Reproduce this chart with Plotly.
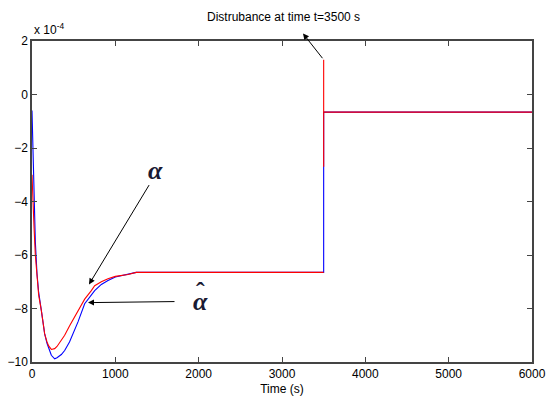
import plotly.graph_objects as go

# time (s) and signals in units of 1e-4
t_curve = [0, 10, 25, 40, 60, 80, 112, 132, 152, 180, 200, 232, 272, 300, 352, 392, 450, 512, 552, 632, 712, 752, 832, 912, 1000, 1152, 1250]
alpha_hat = [-0.6, -2.0, -3.8, -5.5, -6.7, -7.4, -8.07, -8.5, -8.95, -9.3, -9.5, -9.75, -9.88, -9.84, -9.72, -9.57, -9.25, -8.82, -8.5, -7.82, -7.5, -7.33, -7.1, -6.95, -6.82, -6.7, -6.65]
alpha = [-3.0, -4.1, -5.0, -6.0, -6.9, -7.5, -8.07, -8.5, -8.95, -9.25, -9.4, -9.53, -9.5, -9.42, -9.2, -9.0, -8.65, -8.3, -8.07, -7.65, -7.33, -7.15, -7.0, -6.89, -6.8, -6.73, -6.65]

t_dist = 3500
t_end = 6000
steady_before = -6.65
alpha_peak = 1.3
alpha_hat_jump = -2.7
steady_after = -0.66

blue_x = t_curve + [t_dist, t_dist, t_dist, t_end]
blue_y = alpha_hat + [steady_before, alpha_hat_jump, steady_after, steady_after]
red_x = t_curve + [t_dist, t_dist, t_dist, t_dist, t_dist, t_end]
red_y = alpha + [steady_before, None, alpha_hat_jump, alpha_peak, steady_after, steady_after]

fig = go.Figure()
fig.add_trace(go.Scatter(x=blue_x, y=blue_y, mode="lines",
                         line=dict(color="#0000ff", width=1.1), connectgaps=False))
fig.add_trace(go.Scatter(x=red_x, y=red_y, mode="lines",
                         line=dict(color="#ff0000", width=1.1), connectgaps=False))

axis_common = dict(showline=True, linecolor="#444444", linewidth=1.5, mirror="ticks",
                   ticks="inside", ticklen=5, tickcolor="#444444", showgrid=False,
                   zeroline=False, automargin=False,
                   tickfont=dict(size=12, color="black", family="Liberation Sans, Arial"))
fig.update_xaxes(range=[0, 6000], tickvals=[0, 1000, 2000, 3000, 4000, 5000, 6000],
                 title=dict(text="Time (s)", font=dict(size=12, color="black"), standoff=4),
                 **axis_common)
fig.update_yaxes(range=[-10, 2], tickvals=[-10, -8, -6, -4, -2, 0, 2], **axis_common)

ann = []
ann.append(dict(xref="paper", yref="paper", x=0.0, y=1.0, xanchor="left", yanchor="bottom",
                text="x 10<sup>-4</sup>", showarrow=False, font=dict(size=12, color="black"), yshift=2))
ann.append(dict(xref="x", yref="y", x=3252, y=2.28, ax=3500, ay=1.3, axref="x", ayref="y",
                text="", showarrow=True, arrowhead=2, arrowsize=1.2, arrowwidth=1, arrowcolor="black"))
ann.append(dict(xref="paper", yref="paper", x=0.502, y=1.0, xanchor="center", yanchor="bottom",
                yshift=15, text="Distrubance at time t=3500 s", showarrow=False,
                font=dict(size=12, color="black")))
ann.append(dict(xref="x", yref="y", x=684, y=-7.1, ax=1416, ay=-3.33, axref="x", ayref="y",
                text="", showarrow=True, arrowhead=2, arrowsize=1.2, arrowwidth=1, arrowcolor="black"))
ann.append(dict(xref="x", yref="y", x=1476, y=-2.84, text="<b><i>α</i></b>", showarrow=False,
                font=dict(size=26, color="#1a1a33", family="Liberation Serif, Times New Roman")))
ann.append(dict(xref="x", yref="y", x=672, y=-7.78, ax=1728, ay=-7.74, axref="x", ayref="y",
                text="", showarrow=True, arrowhead=2, arrowsize=1.2, arrowwidth=1, arrowcolor="black"))
ann.append(dict(xref="x", yref="y", x=2016, y=-7.75, text="<b><i>α</i></b>", showarrow=False,
                font=dict(size=26, color="#1a1a33", family="Liberation Serif, Times New Roman")))
ann.append(dict(xref="x", yref="y", x=2016, y=-7.75, yshift=10, text="<b>\u02c6</b>", showarrow=False,
                font=dict(size=26, color="#1a1a33", family="Liberation Serif, Times New Roman")))

fig.update_layout(width=550, height=412, margin=dict(l=32, r=18, t=41, b=50),
                  paper_bgcolor="white", plot_bgcolor="white", showlegend=False,
                  font=dict(family="Liberation Sans, Arial", size=12, color="black"),
                  annotations=ann)

fig.write_html("out.html")
